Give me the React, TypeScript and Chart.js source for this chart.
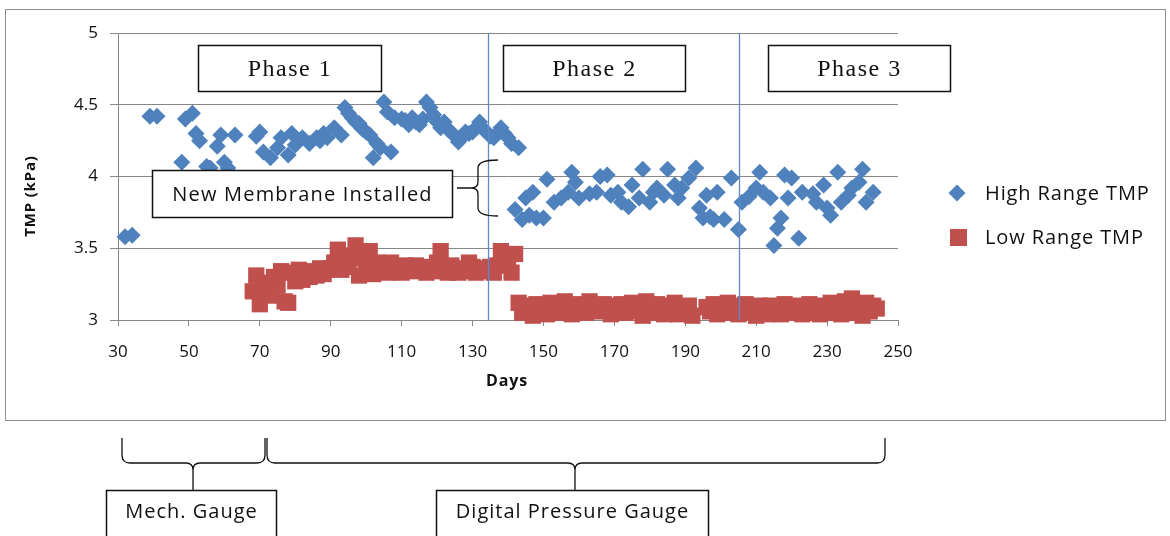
import React, { useEffect, useRef } from "react";
import { Chart, registerables } from "chart.js";

Chart.register(...registerables);

// ---------- data ----------
const seriesNames = ["High Range TMP", "Low Range TMP"];

const highDays = [
  32, 34, 39, 41, 48, 49, 51, 52, 53, 55, 56, 58, 59, 60, 61, 63,
  69, 70, 71, 73, 75, 76, 78, 79, 80, 82, 84, 86, 87, 88, 89, 91, 93, 94, 95, 96, 97, 98, 99, 100,
  101, 102, 103, 104, 105, 106, 107, 108, 110, 111, 112, 113, 114, 115, 116, 117, 118, 119, 120,
  121, 122, 123, 124, 125, 126, 127, 128, 129, 130, 131, 132, 133, 134, 135, 136, 137, 138, 139, 140, 141, 143,
  142, 144, 145, 146, 147, 148, 150, 151, 153, 155, 157, 158, 159, 160, 163, 165, 166, 168, 169, 171,
  172, 174, 175, 177, 178, 180, 181, 182, 184, 185, 187, 188, 189, 191, 193, 194, 195, 196, 197, 198,
  199, 201, 203, 205, 206, 208, 210, 211, 212, 214, 215, 216, 217, 218, 219, 220, 222, 223, 226, 227,
  229, 230, 231, 233, 234, 236, 237, 239, 240, 241, 243,
];
const highTmp = [
  3.58, 3.59, 4.42, 4.42, 4.10, 4.40, 4.44, 4.30, 4.25, 4.07, 4.06, 4.21, 4.29, 4.10, 4.06, 4.29,
  4.28, 4.31, 4.17, 4.13, 4.20, 4.27, 4.15, 4.30, 4.22, 4.27, 4.23, 4.27, 4.25, 4.30, 4.27, 4.34, 4.29, 4.48, 4.44, 4.41, 4.38, 4.37, 4.33, 4.31,
  4.29, 4.13, 4.23, 4.20, 4.52, 4.45, 4.17, 4.41, 4.40, 4.39, 4.36, 4.41, 4.38, 4.36, 4.40, 4.52, 4.48, 4.43, 4.38,
  4.34, 4.38, 4.33, 4.31, 4.28, 4.24, 4.27, 4.31, 4.30, 4.31, 4.34, 4.38, 4.33, 4.31, 4.28, 4.27, 4.30, 4.34, 4.30, 4.27, 4.23, 4.20,
  3.77, 3.70, 3.85, 3.73, 3.89, 3.71, 3.71, 3.98, 3.82, 3.85, 3.89, 4.03, 3.96, 3.85, 3.88, 3.89, 4.00, 4.01, 3.87, 3.89,
  3.82, 3.79, 3.94, 3.85, 4.05, 3.82, 3.89, 3.92, 3.87, 4.05, 3.94, 3.85, 3.92, 3.99, 4.06, 3.78, 3.71, 3.87, 3.72, 3.70,
  3.89, 3.70, 3.99, 3.63, 3.82, 3.86, 3.92, 4.03, 3.89, 3.85, 3.52, 3.64, 3.71, 4.01, 3.85, 3.99, 3.57, 3.89, 3.88, 3.82,
  3.94, 3.78, 3.73, 4.03, 3.82, 3.87, 3.92, 3.96, 4.05, 3.82, 3.89,
];

const lowDays = [
  68, 69, 70, 71, 72, 73, 74, 75, 76, 77, 78, 79, 80, 81, 82, 83, 84, 85, 86, 87,
  88, 89, 90, 91, 92, 93, 94, 95, 96, 97, 98, 99, 100, 101, 102, 103, 104, 105, 106, 107,
  108, 109, 110, 111, 112, 113, 114, 115, 116, 117, 118, 119, 120, 121, 122, 123, 124, 125, 126, 127,
  128, 129, 130, 131, 132, 133, 134, 135, 136, 137, 138, 139, 140, 141, 142,
  143, 144, 145, 146, 147, 148, 149, 150, 151, 152, 153, 154, 155, 156, 157, 158, 159, 160, 161, 162,
  163, 164, 165, 166, 167, 168, 169, 170, 171, 172, 173, 174, 175, 176, 177, 178, 179, 180, 181, 182,
  183, 184, 185, 186, 187, 188, 189, 190, 191, 192, 196, 197, 198, 199, 200, 201, 202, 203, 204, 205,
  206, 207, 208, 209, 210, 211, 212, 213, 214, 215, 216, 217, 218, 219, 220, 221, 222, 223, 224, 225,
  226, 227, 228, 229, 230, 231, 232, 233, 234, 235, 236, 237, 238, 239, 240, 241, 242, 243, 244,
];
const lowTmp = [
  3.20, 3.31, 3.11, 3.22, 3.26, 3.17, 3.30, 3.24, 3.34, 3.13, 3.12, 3.33, 3.27, 3.35, 3.28, 3.33, 3.30, 3.34, 3.31, 3.36,
  3.32, 3.35, 3.36, 3.40, 3.49, 3.35, 3.42, 3.37, 3.45, 3.52, 3.31, 3.43, 3.36, 3.48, 3.32, 3.40, 3.35, 3.38, 3.33, 3.40,
  3.34, 3.37, 3.33, 3.38, 3.36, 3.34, 3.38, 3.35, 3.36, 3.33, 3.37, 3.34, 3.40, 3.48, 3.36, 3.33, 3.38, 3.35, 3.33, 3.36,
  3.34, 3.40, 3.37, 3.33, 3.36, 3.35, 3.34, 3.37, 3.33, 3.38, 3.48, 3.45, 3.38, 3.33, 3.46,
  3.12, 3.05, 3.10, 3.07, 3.03, 3.11, 3.06, 3.09, 3.04, 3.12, 3.07, 3.10, 3.05, 3.13, 3.08, 3.04, 3.11, 3.07, 3.10, 3.05,
  3.13, 3.08, 3.10, 3.06, 3.11, 3.09, 3.04, 3.10, 3.07, 3.11, 3.05, 3.09, 3.12, 3.06, 3.10, 3.03, 3.13, 3.08, 3.05, 3.11,
  3.07, 3.04, 3.10, 3.06, 3.12, 3.04, 3.08, 3.05, 3.10, 3.03, 3.09, 3.06, 3.11, 3.04, 3.09, 3.07, 3.12, 3.05, 3.10, 3.04,
  3.08, 3.11, 3.05, 3.09, 3.03, 3.10, 3.07, 3.04, 3.10, 3.06, 3.09, 3.04, 3.11, 3.07, 3.05, 3.10, 3.06, 3.04, 3.09, 3.11,
  3.05, 3.08, 3.04, 3.10, 3.07, 3.12, 3.05, 3.09, 3.04, 3.13, 3.08, 3.15, 3.05, 3.10, 3.03, 3.12, 3.06, 3.10, 3.08,
];

const xMin = 30;
const xMax = 250;
const xStep = 20;
const yMin = 3;
const yMax = 5;
const yStep = 0.5;

const phaseBoundaryDays = [134.4, 205.2];
const phaseLabels = ["Phase 1", "Phase 2", "Phase 3"];
const membraneLabel = "New Membrane Installed";
const gaugeLabels = ["Mech. Gauge", "Digital Pressure Gauge"];
const xTitle = "Days";
const yTitle = "TMP (kPa)";

// ---------- styles ----------
const BLUE = "#4F81BD";
const RED = "#C0504D";
const GRID = "#878787";
const SANS = "'Open Sans', 'DejaVu Sans', sans-serif";
const SERIF = "'Liberation Serif', 'DejaVu Serif', serif";

function textBox(
  ctx: CanvasRenderingContext2D,
  x: number,
  y: number,
  w: number,
  h: number,
  text: string,
  font: string,
  spacing: string,
  textY?: number
) {
  ctx.save();
  ctx.fillStyle = "#fff";
  ctx.fillRect(x, y, w, h);
  ctx.strokeStyle = "#111";
  ctx.lineWidth = 1.5;
  ctx.strokeRect(x, y, w, h);
  ctx.fillStyle = "#111";
  ctx.font = font;
  (ctx as any).letterSpacing = spacing;
  ctx.textAlign = "center";
  ctx.textBaseline = "middle";
  ctx.fillText(text, x + w / 2, textY !== undefined ? textY : y + h / 2 + 1);
  ctx.restore();
}

const decorPlugin = {
  id: "decor",
  beforeDraw(chart: any) {
    const ctx: CanvasRenderingContext2D = chart.ctx;
    ctx.save();
    ctx.fillStyle = "#fff";
    ctx.fillRect(0, 0, chart.width, chart.height);
    ctx.strokeStyle = "#8e8e8e";
    ctx.lineWidth = 1;
    ctx.strokeRect(5.5, 9.5, 1160, 411);
    ctx.restore();
  },
  afterDatasetsDraw(chart: any) {
    const ctx: CanvasRenderingContext2D = chart.ctx;
    const xs = chart.scales.x;
    const ys = chart.scales.y;
    ctx.save();
    ctx.strokeStyle = "#5b8ac6";
    ctx.lineWidth = 1.3;
    phaseBoundaryDays.forEach((d) => {
      const px = Math.round(xs.getPixelForValue(d)) + 0.5;
      ctx.beginPath();
      ctx.moveTo(px, ys.getPixelForValue(yMax));
      ctx.lineTo(px, ys.getPixelForValue(yMin));
      ctx.stroke();
    });
    ctx.restore();

    const phaseFont = `24px ${SERIF}`;
    textBox(ctx, 198.5, 45.5, 183, 46, phaseLabels[0], phaseFont, "1.5px");
    textBox(ctx, 503.5, 45.5, 182, 46, phaseLabels[1], phaseFont, "1.5px");
    textBox(ctx, 768.5, 45.5, 182, 46, phaseLabels[2], phaseFont, "1.5px");

    textBox(ctx, 152.5, 170.5, 300, 47, membraneLabel, `20px ${SANS}`, "1.2px");
    ctx.save();
    ctx.strokeStyle = "#111";
    ctx.lineWidth = 1.3;
    ctx.beginPath();
    ctx.moveTo(498, 160);
    ctx.quadraticCurveTo(478, 160, 478, 168);
    ctx.lineTo(478, 182);
    ctx.quadraticCurveTo(478, 188, 471, 188);
    ctx.quadraticCurveTo(478, 188, 478, 194);
    ctx.lineTo(478, 208);
    ctx.quadraticCurveTo(478, 216, 498, 216);
    ctx.moveTo(457, 188);
    ctx.lineTo(471, 188);
    ctx.stroke();
    ctx.restore();
  },
  afterDraw(chart: any) {
    const ctx: CanvasRenderingContext2D = chart.ctx;
    ctx.save();
    ctx.fillStyle = "#111";
    ctx.font = `bold 16px ${SANS}`;
    (ctx as any).letterSpacing = "0.8px";
    ctx.textAlign = "center";
    ctx.textBaseline = "middle";
    ctx.fillText(xTitle, 507, 381);
    ctx.save();
    ctx.translate(31, 196);
    ctx.rotate(-Math.PI / 2);
    ctx.font = `bold 15px ${SANS}`;
    ctx.fillText(yTitle, 0, 0);
    ctx.restore();

    // legend
    ctx.fillStyle = BLUE;
    ctx.beginPath();
    ctx.moveTo(957 - 8.5, 193);
    ctx.lineTo(957, 193 - 8.5);
    ctx.lineTo(957 + 8.5, 193);
    ctx.lineTo(957, 193 + 8.5);
    ctx.closePath();
    ctx.fill();
    ctx.fillStyle = RED;
    ctx.fillRect(950, 229, 17, 17);
    ctx.fillStyle = "#111";
    ctx.font = `20px ${SANS}`;
    (ctx as any).letterSpacing = "0.9px";
    ctx.textAlign = "left";
    ctx.fillText(seriesNames[0], 985, 194);
    ctx.fillText(seriesNames[1], 985, 238);

    // gauge braces
    ctx.strokeStyle = "#111";
    ctx.lineWidth = 1.3;
    const brace = (x0: number, xm: number, x1: number) => {
      ctx.beginPath();
      ctx.moveTo(x0, 438);
      ctx.lineTo(x0, 455);
      ctx.quadraticCurveTo(x0, 463, x0 + 8, 463);
      ctx.lineTo(xm - 7, 463);
      ctx.quadraticCurveTo(xm, 463, xm, 470);
      ctx.quadraticCurveTo(xm, 463, xm + 7, 463);
      ctx.lineTo(x1 - 8, 463);
      ctx.quadraticCurveTo(x1, 463, x1, 455);
      ctx.lineTo(x1, 438);
      ctx.moveTo(xm, 470);
      ctx.lineTo(xm, 490);
      ctx.stroke();
    };
    brace(122, 193, 265);
    brace(267, 575, 885);
    ctx.restore();

    textBox(ctx, 106.5, 490.5, 170, 60, gaugeLabels[0], `20px ${SANS}`, "1px", 512);
    textBox(ctx, 436.5, 490.5, 272, 60, gaugeLabels[1], `20px ${SANS}`, "1px", 512);
  },
};

export default function App() {
  const ref = useRef<HTMLCanvasElement>(null);
  useEffect(() => {
    const canvas = ref.current;
    if (!canvas) return;
    const chart = new Chart(canvas, {
      type: "scatter",
      data: {
        datasets: [
          {
            label: seriesNames[0],
            data: highDays.map((d, i) => ({ x: d, y: highTmp[i] })),
            pointStyle: "rectRot",
            pointRadius: 8.5,
            backgroundColor: BLUE,
            borderColor: BLUE,
            borderWidth: 0,
            clip: false,
          },
          {
            label: seriesNames[1],
            data: lowDays.map((d, i) => ({ x: d, y: lowTmp[i] })),
            pointStyle: "rect",
            pointRadius: 11.5,
            backgroundColor: RED,
            borderColor: RED,
            borderWidth: 0,
            clip: false,
          },
        ],
      } as any,
      options: {
        responsive: false,
        animation: false,
        events: [],
        layout: { padding: { left: 0, top: 33, right: 272, bottom: 0 } },
        plugins: { legend: { display: false }, tooltip: { enabled: false } },
        scales: {
          x: {
            type: "linear",
            min: xMin,
            max: xMax,
            ticks: { stepSize: xStep, padding: 16, color: "#111", font: { family: SANS, size: 17 }, maxRotation: 0, autoSkip: false },
            grid: { drawOnChartArea: false, tickLength: 6, color: GRID },
            border: { color: GRID },
            afterFit(s: any) {
              s.height = 216;
            },
          },
          y: {
            type: "linear",
            min: yMin,
            max: yMax,
            ticks: {
              stepSize: yStep,
              padding: 12,
              color: "#111",
              font: { family: SANS, size: 17 },
              callback: (v: any) => String(Number(v)),
            },
            grid: { tickLength: 8, color: GRID },
            border: { color: GRID },
            afterFit(s: any) {
              s.width = 118;
            },
          },
        },
      } as any,
      plugins: [decorPlugin],
    });
    return () => chart.destroy();
  }, []);
  return (
    <div style={{ position: "fixed", left: 0, top: 0, width: 1170, height: 536, background: "#fff" }}>
      <canvas ref={ref} width={1170} height={536} style={{ display: "block" }} />
    </div>
  );
}
